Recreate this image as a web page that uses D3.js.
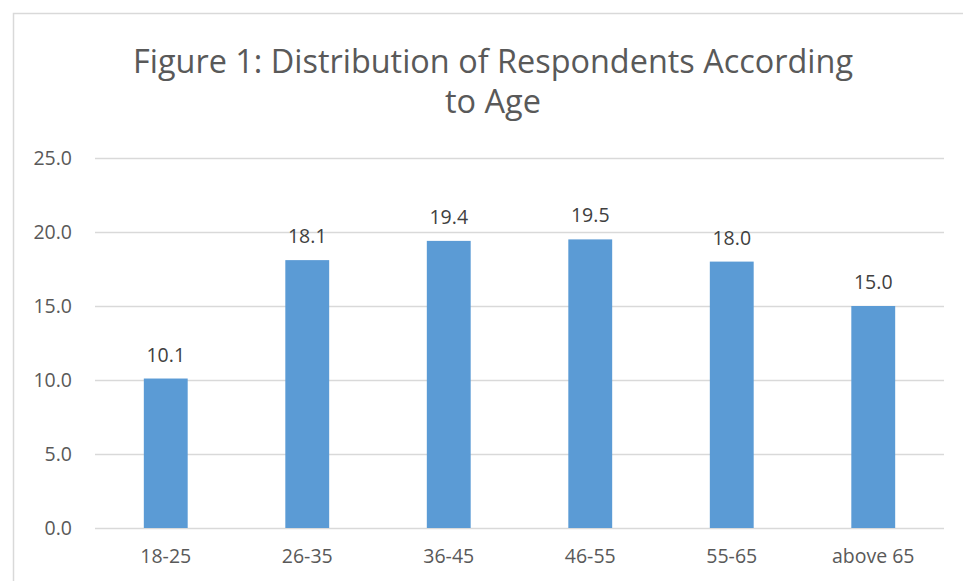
<!DOCTYPE html>
<html>
<head>
<meta charset="utf-8">
<script src="https://cdn.jsdelivr.net/npm/d3@7"></script>
<style>
  body { margin: 0; background: #fff; }
  text { font-family: "Open Sans", "Noto Sans", sans-serif; fill: #595959; }
</style>
</head>
<body>
<script>
// chart data
var categories = ["18-25", "26-35", "36-45", "46-55", "55-65", "above 65"];
var values = [10.1, 18.1, 19.4, 19.5, 18.0, 15.0];
var yTicks = [0, 5, 10, 15, 20, 25];
var titleLines = ["Figure 1: Distribution of Respondents According", "to Age"];

var W = 963, H = 581;
var margin = {left: 95, right: 19, top: 158, bottom: 53};
var width = W - margin.left - margin.right;
var height = H - margin.top - margin.bottom;
var fs = 19.5;

var svg = d3.select("body").append("svg")
    .attr("width", W)
    .attr("height", H);

// chart frame
svg.append("path")
    .attr("d", "M13.5,581 V13.5 H963")
    .attr("fill", "none")
    .attr("stroke", "#d9d9d9")
    .attr("stroke-width", 1.5);

// title
svg.append("text")
    .attr("x", 493)
    .attr("y", 73)
    .attr("text-anchor", "middle")
    .attr("textLength", 720)
    .attr("lengthAdjust", "spacingAndGlyphs")
    .style("font-size", "32px")
    .text(titleLines[0]);

svg.append("text")
    .attr("x", 493)
    .attr("y", 113)
    .attr("text-anchor", "middle")
    .attr("textLength", 96)
    .attr("lengthAdjust", "spacingAndGlyphs")
    .style("font-size", "32px")
    .text(titleLines[1]);

var g = svg.append("g")
    .attr("transform", "translate(" + margin.left + "," + margin.top + ")");

var x = d3.scaleBand()
    .domain(categories)
    .range([0, width])
    .paddingInner(0.69)
    .paddingOuter(0.345);

var y = d3.scaleLinear()
    .domain([0, 25])
    .range([height, 0]);

// gridlines
g.selectAll("line.grid")
    .data(yTicks)
    .enter()
    .append("line")
        .attr("class", "grid")
        .attr("x1", 0)
        .attr("x2", width)
        .attr("y1", d => Math.round(y(d)) + 0.5)
        .attr("y2", d => Math.round(y(d)) + 0.5)
        .attr("stroke", "#d9d9d9")
        .attr("stroke-width", 1.3);

// y labels
g.selectAll("text.ylab")
    .data(yTicks)
    .enter()
    .append("text")
        .attr("class", "ylab")
        .attr("x", -23)
        .attr("y", d => y(d))
        .attr("dy", "0.35em")
        .attr("text-anchor", "end")
        .style("font-size", fs + "px")
        .text(d => d.toFixed(1));

// bars
var data = categories.map(function(c, i){ return {cat: c, val: values[i]}; });

g.selectAll("rect.bar")
    .data(data)
    .enter()
    .append("rect")
        .attr("class", "bar")
        .attr("x", d => x(d.cat))
        .attr("y", d => y(d.val))
        .attr("width", x.bandwidth())
        .attr("height", d => height - y(d.val))
        .attr("fill", "#5b9bd5");

// value labels
g.selectAll("text.val")
    .data(data)
    .enter()
    .append("text")
        .attr("class", "val")
        .attr("x", d => x(d.cat) + x.bandwidth() / 2)
        .attr("y", d => y(d.val) - 17)
        .attr("text-anchor", "middle")
        .style("font-size", fs + "px")
        .style("fill", "#404040")
        .text(d => d.val.toFixed(1));

// x labels
g.selectAll("text.xlab")
    .data(categories)
    .enter()
    .append("text")
        .attr("class", "xlab")
        .attr("x", d => x(d) + x.bandwidth() / 2)
        .attr("y", height + 35)
        .attr("text-anchor", "middle")
        .style("font-size", fs + "px")
        .text(d => d);
</script>
</body>
</html>
